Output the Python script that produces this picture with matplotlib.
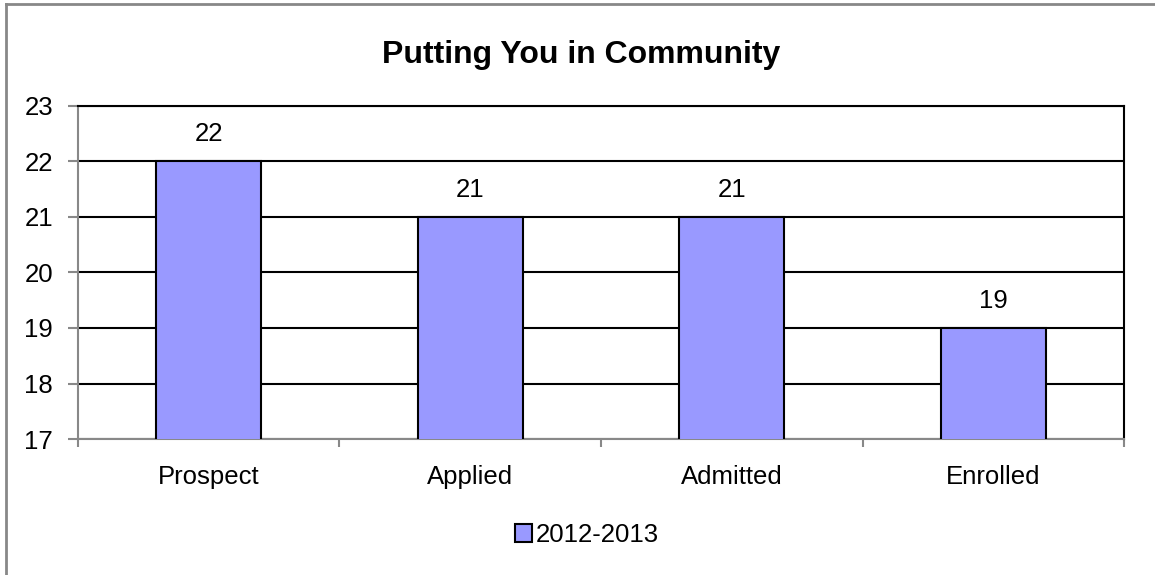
import matplotlib
matplotlib.use("Agg")
import matplotlib.pyplot as plt
from matplotlib.lines import Line2D

# chart data
categories = ["Prospect", "Applied", "Admitted", "Enrolled"]
values = [22, 21, 21, 19]
series_name = "2012-2013"
title = "Putting You in Community"
y_ticks = [17, 18, 19, 20, 21, 22, 23]

plt.rcParams["font.family"] = ["Liberation Sans", "DejaVu Sans"]

fig = plt.figure(figsize=(11.55, 5.75), dpi=100)
ax = fig.add_axes([0.0675, 0.2365, 0.9057, 0.5792])

x = list(range(len(categories)))
bars = ax.bar(x, values, width=0.4, color="#9999FF", edgecolor="black",
              linewidth=1.5, label=series_name, zorder=3)

ax.set_xlim(-0.5, len(categories) - 0.5)
ax.set_ylim(y_ticks[0], y_ticks[-1])
ax.set_yticks(y_ticks)
ax.grid(axis="y", color="black", linewidth=1.5, zorder=1)

# value labels above bars
for xi, v in zip(x, values):
    ax.annotate(str(v), (xi, v), xytext=(0, 19.5), textcoords="offset points",
                ha="center", va="center", fontsize=18.5)

# category labels between boundary ticks
ax.set_xticks(x)
ax.set_xticklabels(categories, fontsize=18.5)
ax.tick_params(axis="x", which="major", length=0, pad=18.5)
ax.set_xticks([i - 0.5 for i in range(len(categories) + 1)], minor=True)
ax.tick_params(axis="x", which="minor", length=6, width=1.5, color="#888888")
ax.tick_params(axis="y", length=7, width=1.5, color="#888888", pad=11,
               labelsize=18.5)

for side in ("top", "right"):
    ax.spines[side].set_color("black")
    ax.spines[side].set_linewidth(1.5)
for side in ("left", "bottom"):
    ax.spines[side].set_color("#888888")
    ax.spines[side].set_linewidth(1.5)

fig.text(0.503, 1 - 55 / 575, title, ha="center", va="center",
         fontsize=23, fontweight="bold")

fig.legend(loc="center", bbox_to_anchor=(0.508, 1 - 535 / 575), frameon=False,
           fontsize=18.5, handlelength=0.65, handleheight=0.65,
           handletextpad=0.15)

# outer chart border (top and left edges visible in the crop)
fig.add_artist(Line2D([6 / 1155, 6 / 1155], [0, 1 - 4 / 575],
                      transform=fig.transFigure, color="#888888", linewidth=2))
fig.add_artist(Line2D([6 / 1155, 1], [1 - 4 / 575, 1 - 4 / 575],
                      transform=fig.transFigure, color="#888888", linewidth=2))

fig.savefig("out.png", dpi=100)
